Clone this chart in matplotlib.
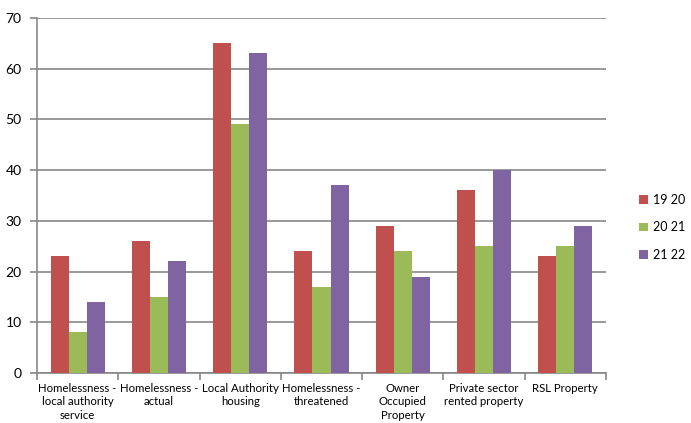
import matplotlib.pyplot as plt
import numpy as np

categories = ["Homelessness -\nlocal authority\nservice", "Homelessness -\nactual",
              "Local Authority\nhousing", "Homelessness -\nthreatened",
              "Owner\nOccupied\nProperty", "Private sector\nrented property", "RSL Property"]
series_names = ["19 20", "20 21", "21 22"]
vals_1920 = [23, 26, 65, 24, 29, 36, 23]
vals_2021 = [8, 15, 49, 17, 24, 25, 25]
vals_2122 = [14, 22, 63, 37, 19, 40, 29]
colors = ["#C0504D", "#9BBB59", "#8064A2"]

plt.rcParams['font.family'] = ['Lato', 'DejaVu Sans']

fig = plt.figure(figsize=(6.91, 4.23), dpi=100)
ax = fig.add_axes([37 / 691, 1 - 373 / 423, (606 - 37) / 691, (373 - 18) / 423])

x = np.arange(len(categories))
w = 1 / 4.5
for i, (vals, name) in enumerate(zip([vals_1920, vals_2021, vals_2122], series_names)):
    ax.bar(x + (i - 1) * w, vals, width=w, color=colors[i], label=name, zorder=3)

grid_c = "#878787"
ax.set_xlim(-0.5, len(categories) - 0.5)
ax.set_ylim(0, 70)
ax.set_yticks(range(0, 71, 10))
ax.yaxis.grid(True, color=grid_c, linewidth=1.2, zorder=0)
for s in ["top", "right"]:
    ax.spines[s].set_visible(False)
for s in ["left", "bottom"]:
    ax.spines[s].set_color(grid_c)
    ax.spines[s].set_linewidth(1.2)

ax.set_xticks(np.arange(len(categories) + 1) - 0.5)
ax.set_xticklabels([])
ax.set_xticks(x, minor=True)
ax.set_xticklabels(categories, minor=True, fontsize=8.2, linespacing=1.3, va="top")
ax.tick_params(axis="x", which="major", length=5, color=grid_c, width=1.2)
ax.tick_params(axis="x", which="minor", length=0, pad=7)
ax.tick_params(axis="y", length=5, color=grid_c, width=1.2, labelsize=10, pad=6)

ax.legend(loc="center left", bbox_to_anchor=(1.05, 0.41), frameon=False,
          fontsize=9, handlelength=0.7, handleheight=0.7, handletextpad=0.4,
          labelspacing=1.25, borderaxespad=0)

fig.savefig("out.png", dpi=100)
